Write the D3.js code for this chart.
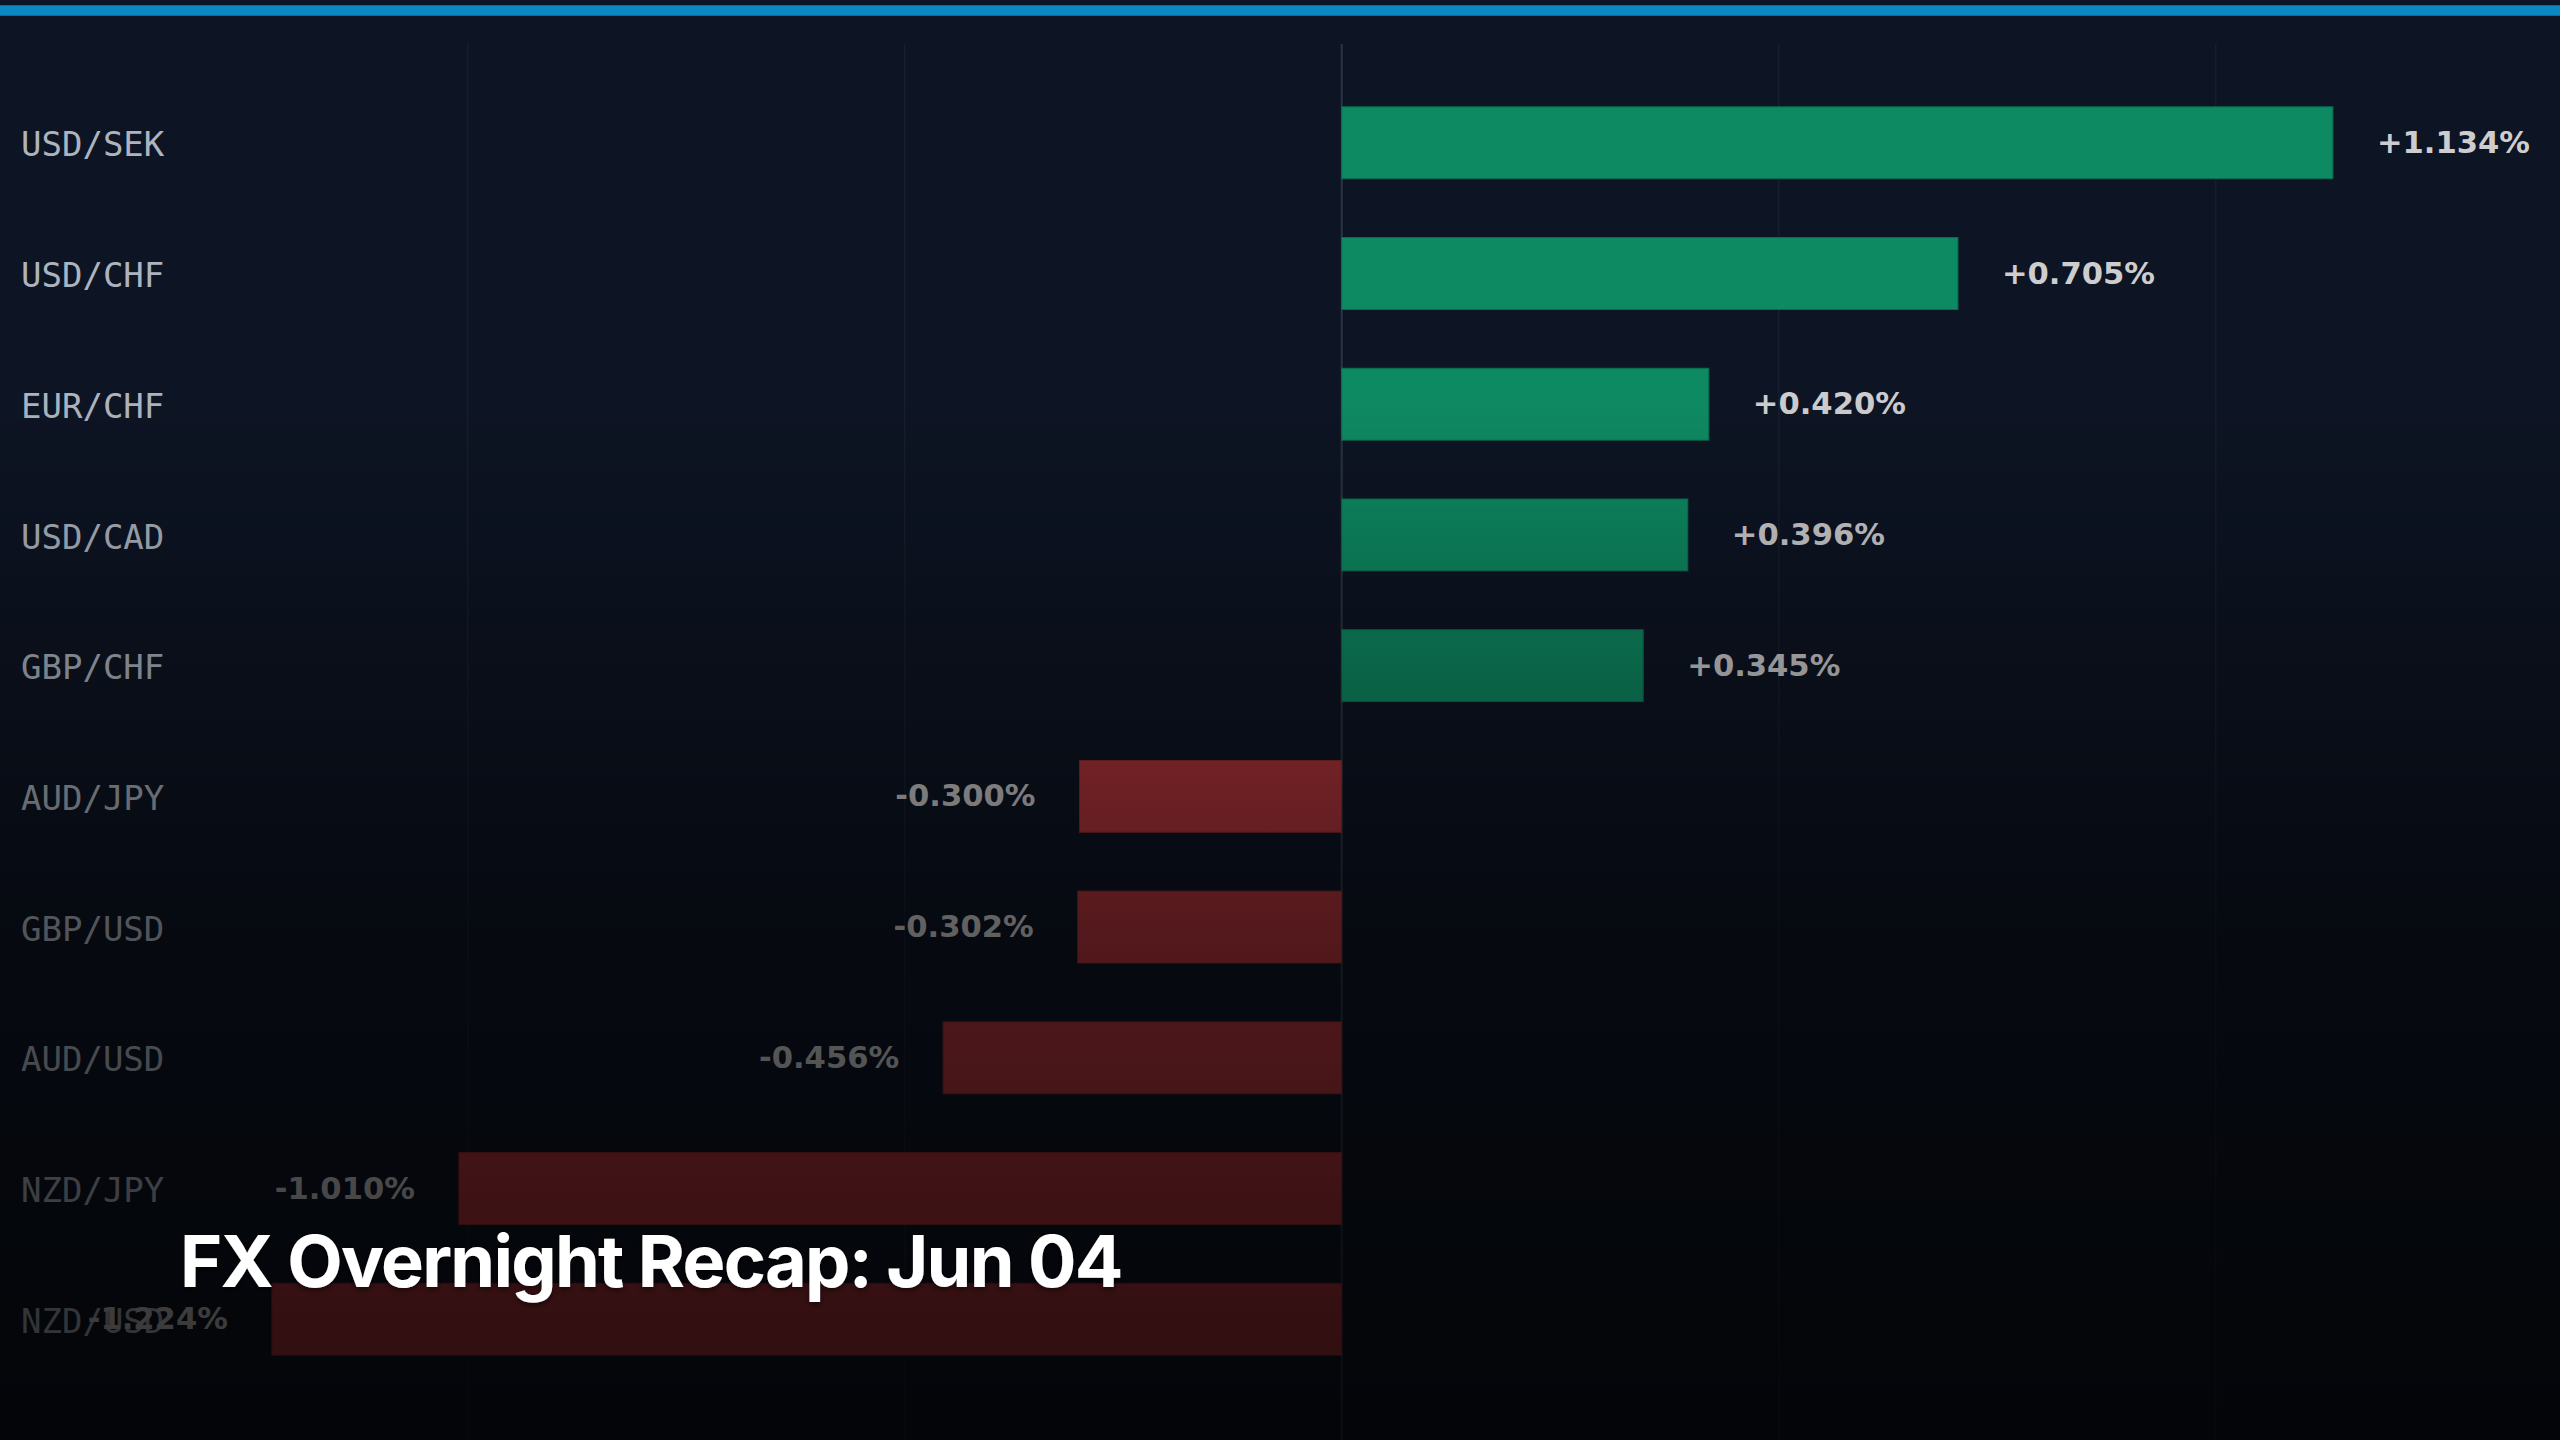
<!DOCTYPE html>
<html>
<head>
<meta charset="utf-8">
<script src="https://cdn.jsdelivr.net/npm/d3@7"></script>
<style>
  html, body { margin: 0; padding: 0; background: #0d1423; }
  svg { display: block; }
</style>
</head>
<body>
<svg id="chart" width="2560" height="1440"></svg>
<script>
// ---- data ----
const pairs = ["USD/SEK", "USD/CHF", "EUR/CHF", "USD/CAD", "GBP/CHF", "AUD/JPY", "GBP/USD", "AUD/USD", "NZD/JPY", "NZD/USD"];
const changes = [1.134, 0.705, 0.420, 0.396, 0.345, -0.300, -0.302, -0.456, -1.010, -1.224];
const gridTicks = [-1.0, -0.5, 0, 0.5, 1.0];
const titleText = "FX Overnight Recap: Jun 04";

// ---- layout ----
const W = 2560, H = 1440;
const svg = d3.select("#chart");

const x = d3.scaleLinear().domain([-1.4, 1.3]).range([118, 2478]);
const y = d3.scaleBand().domain(pairs).range([48, 1414]).padding(0.45);

const defs = svg.append("defs");

// background
svg.append("rect").attr("width", W).attr("height", H).attr("fill", "#0d1423");

// gridlines
const grid = svg.append("g");
grid.selectAll("line").data(gridTicks).join("line")
  .attr("x1", d => x(d)).attr("x2", d => x(d))
  .attr("y1", 44).attr("y2", H)
  .attr("stroke", d => d === 0 ? "#2b3445" : "#ffffff")
  .attr("stroke-opacity", d => d === 0 ? 1 : 0.045)
  .attr("stroke-width", d => d === 0 ? 2 : 1.5);

// bars
const green = "#0e8a62", red = "#b2353c";
svg.append("g").selectAll("rect").data(pairs).join("rect")
  .attr("x", (d, i) => x(Math.min(0, changes[i])))
  .attr("y", d => y(d))
  .attr("width", (d, i) => Math.abs(x(changes[i]) - x(0)))
  .attr("height", y.bandwidth())
  .attr("fill", (d, i) => changes[i] >= 0 ? green : red)
  .attr("stroke", (d, i) => d3.color(changes[i] >= 0 ? green : red).darker(0.6))
  .attr("stroke-width", 1);

// category labels
svg.append("g").selectAll("text").data(pairs).join("text")
  .attr("x", 21)
  .attr("y", d => y(d) + y.bandwidth() / 2)
  .attr("dy", "0.40em")
  .attr("font-family", "'DejaVu Sans Mono', monospace")
  .attr("font-size", 34)
  .attr("fill", "#adb4bf")
  .text(d => d);

// value labels
const fmt = v => (v >= 0 ? "+" : "") + v.toFixed(3) + "%";
svg.append("g").selectAll("text").data(pairs).join("text")
  .attr("x", (d, i) => changes[i] >= 0 ? x(changes[i]) + 44 : x(changes[i]) - 44)
  .attr("y", d => y(d) + y.bandwidth() / 2)
  .attr("dy", "0.33em")
  .attr("text-anchor", (d, i) => changes[i] >= 0 ? "start" : "end")
  .attr("font-family", "'DejaVu Sans', sans-serif")
  .attr("font-weight", "bold")
  .attr("font-size", 30.6)
  .attr("fill", "#cdcdcf")
  .text((d, i) => fmt(changes[i]));

// fade overlay
const fade = defs.append("linearGradient").attr("id", "fade")
  .attr("gradientUnits", "userSpaceOnUse").attr("x1", 0).attr("x2", 0).attr("y1", 0).attr("y2", H);
[[0, 0], [395, 0], [535, 0.14], [665, 0.27], [796, 0.40], [927, 0.53], [1318, 0.71], [1440, 0.74]]
  .forEach(([p, a]) => fade.append("stop").attr("offset", p / H).attr("stop-color", "#000").attr("stop-opacity", a));
svg.append("rect").attr("width", W).attr("height", H).attr("fill", "url(#fade)");

// top accent bar
svg.append("rect").attr("x", 0).attr("y", 5).attr("width", W).attr("height", 11).attr("fill", "#0a88c2");
svg.append("rect").attr("x", 0).attr("y", 5).attr("width", W).attr("height", 1).attr("fill", "#0b6a98");
svg.append("rect").attr("x", 0).attr("y", 15).attr("width", W).attr("height", 1).attr("fill", "#0b6a98");

// title
const shadow = defs.append("filter").attr("id", "tshadow").attr("x", "-5%").attr("y", "-20%").attr("width", "110%").attr("height", "140%");
shadow.append("feDropShadow").attr("dx", 0).attr("dy", 2).attr("stdDeviation", 3).attr("flood-color", "#000").attr("flood-opacity", 0.6);
svg.append("text")
  .attr("x", 180).attr("y", 1287)
  .attr("font-family", "Inter, 'Noto Sans', sans-serif")
  .attr("font-weight", 700)
  .attr("font-size", 72)
  .attr("letter-spacing", "-1.75px")
  .attr("fill", "#ffffff")
  .attr("filter", "url(#tshadow)")
  .text(titleText);
</script>
</body>
</html>
